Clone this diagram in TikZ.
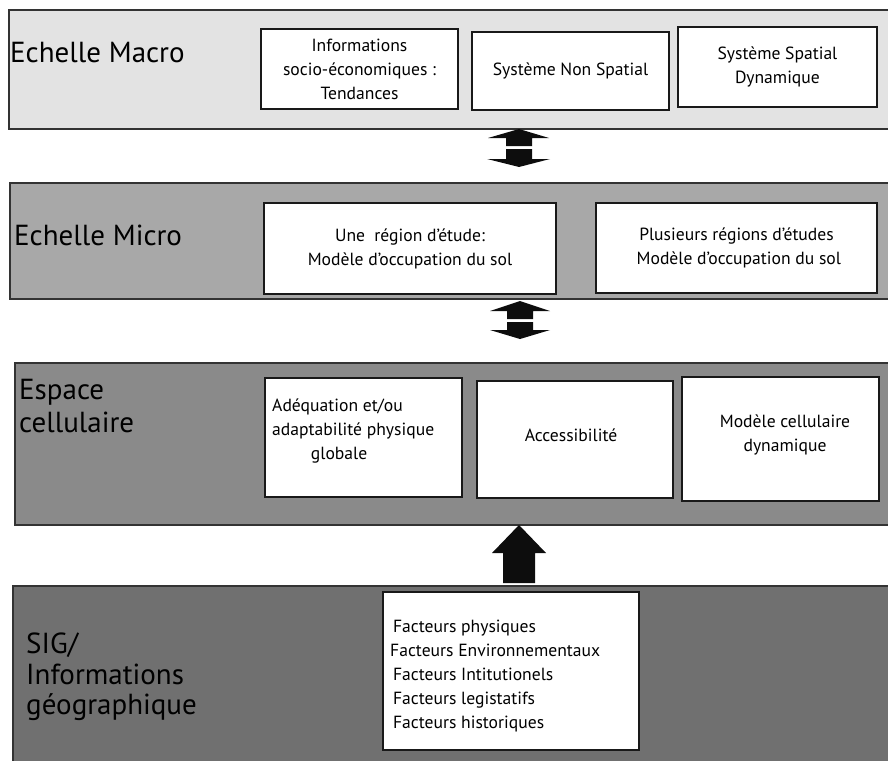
\documentclass[tikz,border=0pt]{standalone}
\usepackage{fontspec}
\setmainfont{PT Sans}
\usetikzlibrary{positioning}

\begin{document}
\begin{tikzpicture}[x=1pt, y=-1pt,
  band/.style={draw=black!80, line width=2pt, anchor=north west, inner sep=0pt, minimum width=920pt},
  macroband/.style={band, fill=black!11, minimum height=119pt},
  microband/.style={band, fill=black!34, minimum height=116pt},
  cellband/.style={band, fill=black!46, minimum height=162pt},
  sigband/.style={band, fill=black!56, minimum height=200pt},
  box/.style={draw=black!90, line width=1.4pt, fill=white, inner sep=0pt},
  boxtxt/.style={font=\fontsize{17.6}{24}\selectfont, align=center, inner sep=0pt},
  lvltxt/.style={font=\fontsize{29}{33}\selectfont, align=left, anchor=west, inner sep=0pt},
  blockarrow/.style={fill=black!95}
]
\useasboundingbox (0,0) rectangle (888,760);

\node[macroband] (macro) at (8,9) {};
\node[microband] (micro) at (9,182) {};
\node[cellband] (cell) at (14,362) {};
\node[sigband] (sig) at (12,585) {};

\node[lvltxt] (lmacro) at (10,53) {Echelle Macro};
\node[lvltxt] (lmicro) at (14,235) {Echelle Micro};
\node[lvltxt] (lcell) at (19,406) {Espace\\cellulaire};
\node[lvltxt, font=\fontsize{29}{30.5}\selectfont] (lsig) at (26,677) {SIG/\\Informations\\géographique};

\node[box, minimum width=197pt, minimum height=80pt, boxtxt] (m1) at (359.5,69) {Informations\\socio-économiques :\\Tendances};
\node[box, minimum width=197pt, minimum height=78pt, boxtxt] (m2) at (570.5,71) {Système Non Spatial};
\node[box, minimum width=199pt, minimum height=80pt, boxtxt] (m3) at (777.5,67) {Système Spatial\\Dynamique};

\node[box, minimum width=292pt, minimum height=91pt, boxtxt] (u1) at (410,248.5) {Une\ \ région d'étude:\\Modèle d'occupation du sol};
\node[box, minimum width=281pt, minimum height=90pt, boxtxt] (u2) at (736.5,248) {Plusieurs régions d'études\\\ Modèle d'occupation du sol};

\node[box, minimum width=197pt, minimum height=119pt] (c1) at (363.5,437.5) {};
\node[box, minimum width=196pt, minimum height=117pt] (c2) at (575,439.5) {};
\node[box, minimum width=197pt, minimum height=124pt] (c3) at (780.5,439) {};
\node[boxtxt, align=left, anchor=west] (c1t) at (272,431) {Adéquation et/ou\\adaptabilité physique\\\hspace*{2.2em}globale};
\node[boxtxt] (c2t) at (571,435) {Accessibilité};
\node[boxtxt] (c3t) at (785,435) {Modèle cellulaire\\dynamique};

\node[box, minimum width=256pt, minimum height=158pt] (s1) at (511,671) {};
\node[boxtxt, align=left, anchor=west] (s1t) at (390,676.5) {\,Facteurs physiques\\Facteurs Environnementaux\\\,Facteurs Intitutionels\\\,Facteurs legistatifs\\\,Facteurs historiques};

\fill[blockarrow] (519,129) -- (549,138) -- (532,138) -- (532,146) -- (506,146) -- (506,138) -- (488,138) -- cycle;
\fill[blockarrow] (506,149) -- (532,149) -- (532,159) -- (550,159) -- (519,167) -- (487,159) -- (506,159) -- cycle;
\fill[blockarrow] (520,301) -- (550,311) -- (533,311) -- (533,319) -- (507,319) -- (507,311) -- (490,311) -- cycle;
\fill[blockarrow] (507,322) -- (533,322) -- (533,330) -- (550,330) -- (520,339) -- (490,330) -- (507,330) -- cycle;
\fill[blockarrow] (519,525) -- (546,553) -- (535,553) -- (535,583) -- (503,583) -- (503,553) -- (492,553) -- cycle;

\end{tikzpicture}
\end{document}
